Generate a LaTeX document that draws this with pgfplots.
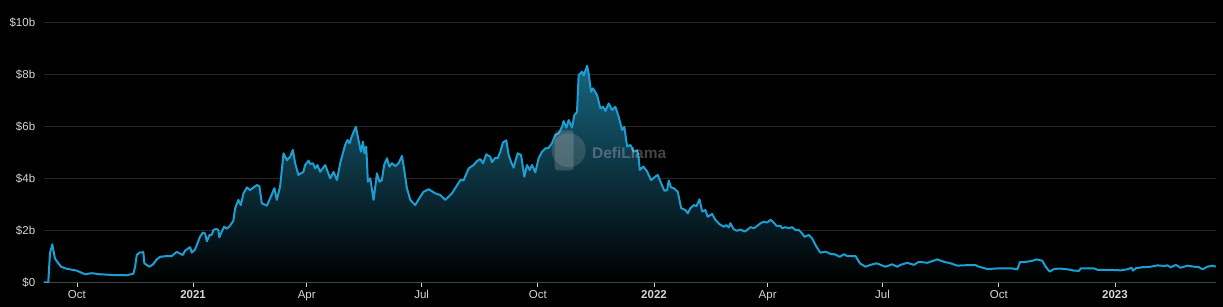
\documentclass[border=0pt]{standalone}
\usepackage{pgfplots}
\pgfplotsset{compat=1.18}
\usepackage{pgfplotstable}
\usepackage{fontspec}
\setmainfont{Liberation Sans}
\definecolor{linec}{RGB}{28,158,210}
\definecolor{fillc}{RGB}{24,100,126}
\definecolor{fillm}{RGB}{7,32,42}
\definecolor{gridc}{RGB}{38,38,38}
\definecolor{basec}{RGB}{105,105,105}
\definecolor{labc}{RGB}{214,214,214}
\definecolor{wmc}{RGB}{200,200,200}

% day 0 = 1 Jan 2021, value in $ billions
\pgfplotstableread{
d v
-118.3 0
-114.7 0
-113.3 1.12
-111.5 1.46
-109.4 0.92
-107.6 0.79
-104.6 0.60
-100.1 0.52
-92.2 0.45
-85.6 0.31
-80.3 0.35
-73.7 0.31
-63.2 0.28
-52.5 0.27
-47.3 0.33
-45.9 0.60
-44.6 1.05
-42.5 1.14
-39.4 1.16
-38.6 0.73
-34.6 0.60
-31.5 0.70
-28.8 0.88
-26.1 0.98
-20.8 1.01
-16.9 1.01
-12.9 1.17
-8.2 1.05
-6.3 1.22
-2.4 1.35
-1.0 1.14
1.6 1.27
5.5 1.75
7.7 1.91
9.5 1.88
10.9 1.58
12.9 1.81
14.8 1.83
16.1 2.01
18.2 2.06
20.0 2.01
20.8 1.73
22.7 1.95
24.6 2.14
26.7 2.06
29.3 2.18
31.9 2.37
33.3 2.85
35.9 3.17
37.8 2.97
39.9 3.42
42.6 3.65
45.2 3.55
50.5 3.74
52.5 3.70
54.4 3.04
58.4 2.95
61.0 3.23
64.4 3.62
66.3 3.17
68.9 3.68
71.6 4.96
74.2 4.70
76.9 4.83
79.0 5.09
80.8 4.58
83.4 4.13
87.4 4.25
88.7 4.51
91.4 4.68
92.7 4.55
94.9 4.58
96.7 4.38
98.5 4.51
100.6 4.25
104.6 4.51
108.6 4.00
111.2 4.25
113.9 3.93
116.5 4.58
120.4 5.28
122.3 5.47
123.9 5.35
125.8 5.63
128.9 5.98
131.0 5.47
132.9 5.02
134.5 5.41
135.7 4.96
137.1 5.22
138.4 3.87
140.3 4.00
142.9 3.17
145.6 4.19
147.6 3.87
149.5 3.93
151.3 4.51
153.5 4.77
155.5 4.45
157.5 4.58
160.1 4.47
162.7 4.58
165.4 4.86
167.2 4.32
169.3 3.62
172.0 3.17
175.9 2.97
179.9 3.29
182.5 3.48
186.5 3.58
191.8 3.42
195.7 3.36
199.7 3.17
205.0 3.42
211.6 3.93
214.2 3.92
218.2 4.38
222.1 4.51
224.8 4.66
227.4 4.74
229.6 4.58
232.2 4.92
235.3 4.83
236.7 4.62
239.3 4.79
241.1 4.77
243.3 5.02
245.4 5.38
248.0 5.46
249.9 4.90
251.7 4.64
253.8 4.41
257.0 4.96
259.7 4.90
262.3 4.06
264.4 4.51
266.5 4.32
268.4 4.51
271.0 4.23
273.6 4.77
276.3 5.02
278.9 5.15
281.5 5.17
284.2 5.35
286.9 5.67
289.5 5.73
292.2 5.98
293.4 6.20
295.6 5.95
297.4 6.24
300.1 5.95
301.9 6.43
304.0 6.54
305.3 7.97
308.0 8.10
309.3 7.95
312.0 8.33
313.2 8.04
315.1 7.33
316.7 7.46
319.9 7.20
322.5 6.69
324.6 6.75
326.5 6.59
329.1 6.88
331.8 6.63
334.4 6.75
337.0 6.37
339.7 5.86
341.5 5.98
343.7 5.22
346.3 5.28
348.9 5.02
351.6 5.08
352.6 4.90
353.7 4.32
356.6 4.45
359.2 4.29
362.7 3.93
365.3 4.04
367.9 4.13
370.1 3.87
373.2 3.52
375.4 3.55
376.6 3.91
378.5 3.65
380.6 3.62
383.8 3.48
386.5 2.85
389.9 2.78
391.7 2.65
393.8 2.85
396.4 2.97
398.6 2.93
401.0 3.19
403.1 2.72
405.7 2.78
407.5 2.52
411.0 2.63
413.6 2.40
417.0 2.23
420.2 2.14
422.3 2.20
424.1 2.11
425.5 2.27
428.1 2.04
430.8 1.98
433.4 2.03
436.6 1.95
438.7 2.01
441.4 2.12
444.0 2.08
446.7 2.17
449.3 2.27
451.9 2.33
454.6 2.30
457.2 2.40
459.8 2.30
462.0 2.17
465.1 2.17
466.5 2.08
469.1 2.12
471.7 2.08
474.4 2.12
477.0 2.01
479.6 2.01
482.3 1.88
484.1 1.75
487.5 1.82
490.2 1.69
493.6 1.37
496.8 1.14
500.8 1.18
505.3 1.08
507.9 1.08
512.1 0.98
515.3 1.08
518.0 1.01
524.6 1.01
528.0 0.73
532.5 0.60
536.5 0.67
541.2 0.73
544.4 0.67
548.3 0.60
553.6 0.69
557.6 0.60
560.2 0.67
565.5 0.75
570.8 0.67
574.7 0.79
581.4 0.75
589.3 0.88
594.5 0.79
599.9 0.73
605.2 0.64
613.1 0.66
619.7 0.66
622.3 0.60
629.0 0.51
639.5 0.54
647.4 0.54
652.7 0.50
654.8 0.78
659.3 0.78
664.6 0.83
668.0 0.88
672.5 0.83
675.1 0.60
678.3 0.41
681.7 0.51
685.7 0.53
692.3 0.50
697.6 0.45
701.5 0.44
702.9 0.54
713.4 0.54
716.1 0.48
726.7 0.48
734.6 0.46
739.9 0.50
743.1 0.56
744.3 0.45
746.5 0.54
751.8 0.58
758.4 0.60
763.7 0.65
768.9 0.63
771.6 0.65
774.2 0.58
778.2 0.67
782.1 0.56
787.4 0.64
792.7 0.60
796.6 0.58
799.3 0.50
803.3 0.60
807.2 0.64
809.8 0.60
}\tvl

\begin{document}
\begin{tikzpicture}
\fill[black] (-43.7pt,-24.7pt) rectangle (1179.3pt,282.3pt);
\begin{axis}[
  at={(0pt,0pt)}, anchor=south west,
  scale only axis, width=1172.3pt, height=260pt,
  xmin=-118.3, xmax=810, ymin=0, ymax=10,
  axis lines*=left,
  y axis line style={draw=none},
  x axis line style={basec, line width=0.8pt},
  ymajorgrids,
  major grid style={gridc, line width=0.8pt},
  ytick={0,2,4,6,8,10},
  yticklabels={\$0,\$2b,\$4b,\$6b,\$8b,\$10b},
  xtick={-92,0,90,181,273,365,455,546,638,730},
  xticklabels={Oct,\textbf{2021},Apr,Jul,Oct,\textbf{2022},Apr,Jul,Oct,\textbf{2023}},
  xtick align=outside, ytick align=inside,
  major tick length=4.5pt,
  ytick style={draw=none},
  xtick style={labc, line width=0.8pt},
  tick label style={font=\fontsize{11.5}{13}\selectfont, text=labc},
  yticklabel style={xshift=-5pt},
]
\addplot[draw=none, top color=fillc, middle color=fillm, bottom color=black] table[x=d, y=v] {\tvl} \closedcycle;
\addplot[linec, line width=2pt, line join=round] table[x=d, y=v] {\tvl};
\end{axis}
% DefiLlama watermark
\begin{scope}[opacity=0.18]
\fill[wmc] (525pt,132pt) circle (17pt);
\end{scope}
\begin{scope}[opacity=0.22]
\fill[wmc, rounded corners=3pt] (511pt,112pt) rectangle (530pt,152pt);
\end{scope}
\node[text=wmc, opacity=0.35, font=\fontsize{15.5}{17}\selectfont\bfseries] at (585.5pt,129.8pt) {DefiLlama};
\end{tikzpicture}
\end{document}
